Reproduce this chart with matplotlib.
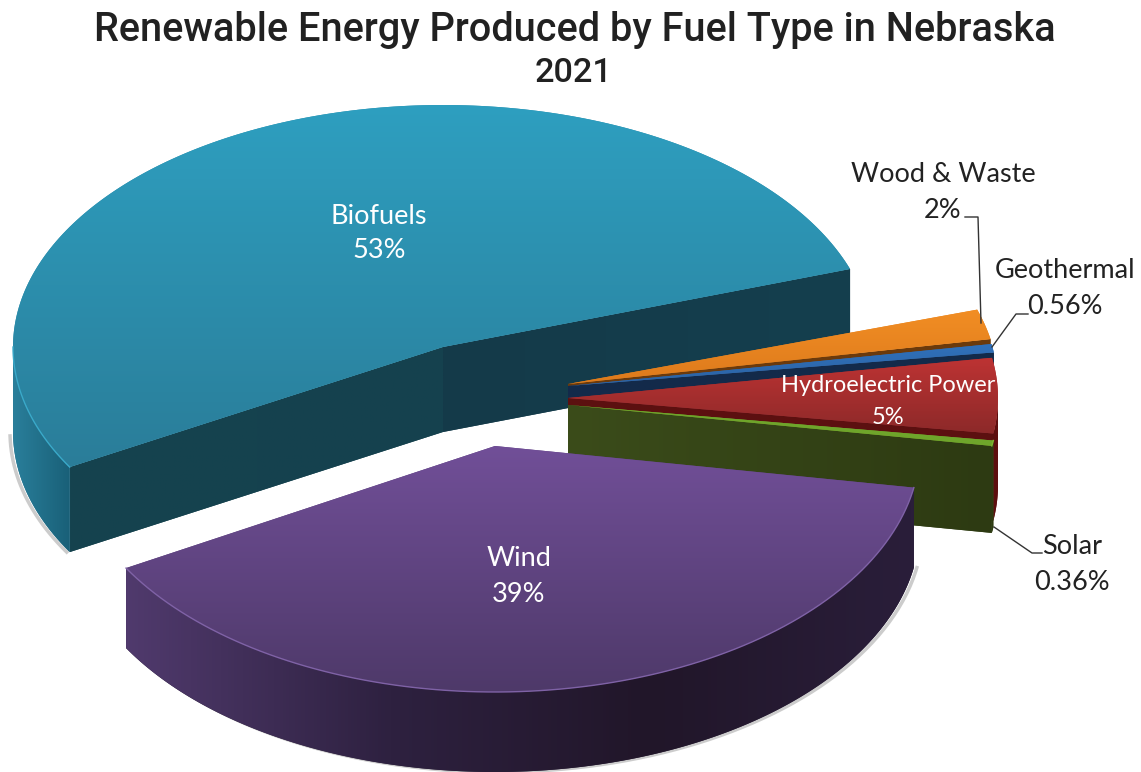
import numpy as np
import matplotlib
matplotlib.use("Agg")
import matplotlib.pyplot as plt
from matplotlib.colors import LinearSegmentedColormap
from matplotlib.patches import Polygon

# data, in drawing order round the pie
fuels = ["Biofuels", "Wind", "Solar", "Hydroelectric Power", "Geothermal", "Wood & Waste"]
shares = [53, 39, 0.36, 5, 0.56, 2]
share_labels = ["53%", "39%", "0.36%", "5%", "0.56%", "2%"]
title_lines = ["Renewable Energy Produced by Fuel Type in Nebraska", "2021"]

# look of the fake 3d pie, pixel units because the axes is the whole image
START_ANGLE = 18.8
apex_x = [443, 495, 568, 568, 568, 568]
apex_y = [347, 446, 405, 398, 386, 384]
radius_x = [430, 425, 430, 430, 430, 430]
radius_y = [242, 246, 242, 242, 242, 242]
depth = [85, 80, 87, 87, 87, 87]
nudge = [0, 0, 0, 0, -1.6, -0.9]
top_colors = [("#2e9fc0", "#2a7d99"), ("#714f98", "#4e3969"), ("#6fa52b", "#6fa52b"),
              ("#bd3333", "#8c2929"), ("#3071bb", "#2b62a3"), ("#f28e24", "#dd7a1c")]
arc_colors = [("#2a7f9b", "#196078"), ("#503a6d", "#2e2140", "#211629", "#2a1e3a"),
              ("#2e3c12", "#2e3c12"), ("#5e0f0f", "#5e0f0f"),
              ("#142c4d", "#142c4d"), ("#6b3a0c", "#6b3a0c")]
start_wall = [("#143a49", "#153f4e"), None, ("#3b4c1a", "#2d3a12"),
              ("#5c1010", "#5c1010"), ("#132a4a", "#132a4a"), ("#6b3a0c", "#6b3a0c")]
end_wall = [("#15434f", "#15414e"), None, None, None, None, None]
rim_colors = ["#3aa9c9", "#7f62a6", "#7fb52f", None, None, None]
paint_order = [0, 5, 4, 3, 2, 1]

label_pos = {
    "Biofuels": (379, 216, 379, 251, "white", 19.5),
    "Wind": (519, 559, 519, 595, "white", 19.5),
    "Hydroelectric Power": (888, 386, 888, 418, "white", 17),
    "Wood & Waste": (943, 174, 943, 210, "#222222", 19.5),
    "Geothermal": (1065, 271, 1065, 307, "#222222", 19.5),
    "Solar": (1072, 546, 1072, 582, "#222222", 19.5),
}
leaders = [
    ([965, 978, 981], [217, 217, 323]),
    ([1028, 1016, 992], [314, 314, 347]),
    ([1042, 1032, 994], [553, 553, 527]),
]


def point(i, angle):
    a = np.radians(angle)
    return apex_x[i] + radius_x[i] * np.cos(a), apex_y[i] - radius_y[i] * np.sin(a)


def gradient_fill(ax, verts, cols, vertical=False, zorder=2):
    # polygon underneath keeps the edge smooth, clipped image gives the shading
    cmap = LinearSegmentedColormap.from_list("g", cols)
    ax.add_patch(Polygon(verts, closed=True, facecolor=cmap(0.5), edgecolor="none", zorder=zorder))
    clip = Polygon(verts, closed=True, facecolor="none", edgecolor="none", transform=ax.transData)
    ax.add_patch(clip)
    grad = np.linspace(0, 1, 256)
    grad = grad.reshape(-1, 1) if vertical else grad.reshape(1, -1)
    img = ax.imshow(grad, cmap=cmap, aspect="auto", origin="upper", zorder=zorder,
                    extent=(verts[:, 0].min(), verts[:, 0].max(), verts[:, 1].max(), verts[:, 1].min()))
    img.set_clip_path(clip)


def draw_radial_wall(ax, i, angle, cols):
    # flat cut face running from the apex out to the rim
    x, y = point(i, angle)
    verts = np.array([[apex_x[i], apex_y[i]], [x, y], [x, y + depth[i]], [apex_x[i], apex_y[i] + depth[i]]])
    gradient_fill(ax, verts, cols)


def draw_arc_wall(ax, i, a0, a1):
    # only the part of the rim that faces the viewer
    ang = np.linspace(a0, a1, 160)
    ang = ang[np.sin(np.radians(ang)) <= 0]
    if len(ang) < 2:
        return
    xs, ys = point(i, ang)
    # grey drop shadow hugging the bottom edge
    if i < 2:
        ax.plot(xs + (-3 if i == 0 else 3), ys + depth[i], color="#9a9a9a", lw=2.5, alpha=0.5, zorder=1)
    verts = np.vstack([np.column_stack([xs, ys]), np.column_stack([xs, ys + depth[i]])[::-1]])
    gradient_fill(ax, verts, arc_colors[i])


def draw_top(ax, i, a0, a1):
    ang = np.linspace(a0, a1, 200)
    xs, ys = point(i, ang)
    verts = np.vstack([[apex_x[i], apex_y[i]], np.column_stack([xs, ys])])
    gradient_fill(ax, verts, top_colors[i], vertical=True)
    if rim_colors[i]:
        low = np.sin(np.radians(ang)) <= 0 if i < 2 else np.ones(len(ang), dtype=bool)
        ax.plot(xs[low], ys[low], color=rim_colors[i], lw=1, zorder=2)


fig = plt.figure(figsize=(11.41, 7.72), dpi=100)
ax = fig.add_axes([0, 0, 1, 1])
ax.set_axis_off()

sweep = np.array(shares) / sum(shares) * 360
ends = START_ANGLE + np.cumsum(sweep)
starts = ends - sweep

for i in paint_order:
    a0 = starts[i] + nudge[i]
    a1 = ends[i] + nudge[i]
    if start_wall[i]:
        draw_radial_wall(ax, i, a0, start_wall[i])
    if end_wall[i]:
        draw_radial_wall(ax, i, a1, end_wall[i])
    draw_arc_wall(ax, i, a0, a1)
    draw_top(ax, i, a0, a1)

ax.set_xlim(0, 1141)
ax.set_ylim(772, 0)

for xs, ys in leaders:
    ax.plot(xs, ys, color="#333333", lw=1, zorder=3)

for fuel, share in zip(fuels, share_labels):
    x0, y0, x1, y1, col, size = label_pos[fuel]
    ax.text(x0, y0, fuel, family="Lato", fontsize=size, color=col, ha="center", va="center", zorder=4)
    ax.text(x1, y1, share, family="Lato", fontsize=size, color=col, ha="center", va="center", zorder=4)

ax.text(575, 30, title_lines[0], family="Roboto", weight="medium", fontsize=28.6, color="#212121", ha="center", va="center")
ax.text(573, 73, title_lines[1], family="Roboto", weight="medium", fontsize=24.6, color="#212121", ha="center", va="center")

fig.savefig("out.png", dpi=100)
